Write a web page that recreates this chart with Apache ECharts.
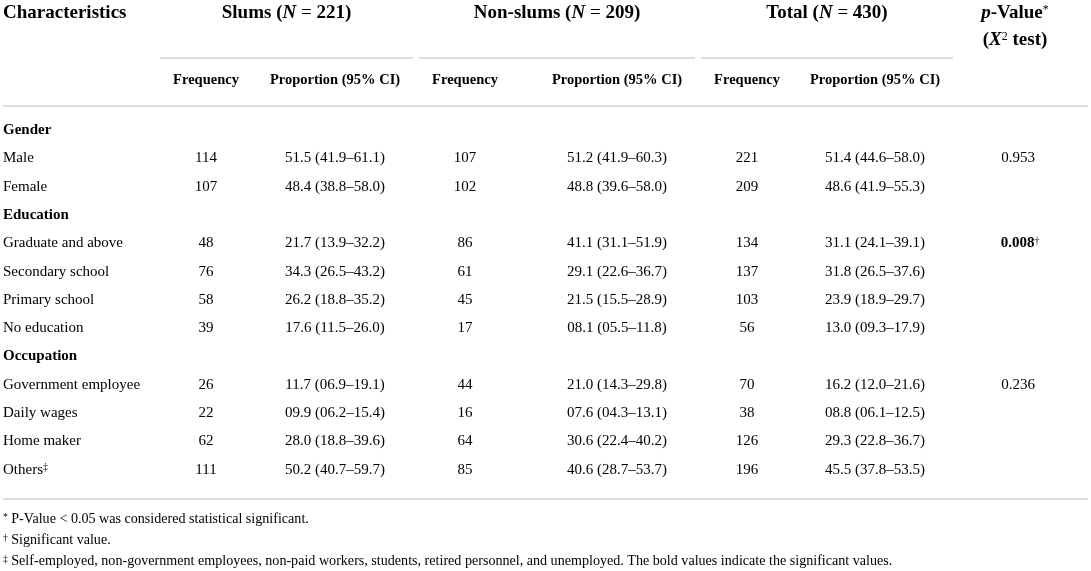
<!DOCTYPE html>
<html>
<head>
<meta charset="utf-8">
<script src="https://cdn.jsdelivr.net/npm/echarts@6/dist/echarts.min.js"></script>
<style>
  html, body { margin: 0; padding: 0; background: #fff; }
  #main { width: 1091px; height: 571px; }
</style>
</head>
<body>
<div id="main"></div>
<script>
// table contents
const rowLabels = ['Gender', 'Male', 'Female', 'Education', 'Graduate and above', 'Secondary school',
  'Primary school', 'No education', 'Occupation', 'Government employee', 'Daily wages', 'Home maker', 'Others'];
const groupRows = ['Gender', 'Education', 'Occupation'];
const groupNames = ['Slums', 'Non-slums', 'Total'];
const groupN = [221, 209, 430];
const subHeaders = ['Frequency', 'Proportion (95% CI)'];

const slumsFreq = [null, 114, 107, null, 48, 76, 58, 39, null, 26, 22, 62, 111];
const slumsProp = [null, '51.5 (41.9–61.1)', '48.4 (38.8–58.0)', null, '21.7 (13.9–32.2)', '34.3 (26.5–43.2)',
  '26.2 (18.8–35.2)', '17.6 (11.5–26.0)', null, '11.7 (06.9–19.1)', '09.9 (06.2–15.4)', '28.0 (18.8–39.6)', '50.2 (40.7–59.7)'];
const nonSlumsFreq = [null, 107, 102, null, 86, 61, 45, 17, null, 44, 16, 64, 85];
const nonSlumsProp = [null, '51.2 (41.9–60.3)', '48.8 (39.6–58.0)', null, '41.1 (31.1–51.9)', '29.1 (22.6–36.7)',
  '21.5 (15.5–28.9)', '08.1 (05.5–11.8)', null, '21.0 (14.3–29.8)', '07.6 (04.3–13.1)', '30.6 (22.4–40.2)', '40.6 (28.7–53.7)'];
const totalFreq = [null, 221, 209, null, 134, 137, 103, 56, null, 70, 38, 126, 196];
const totalProp = [null, '51.4 (44.6–58.0)', '48.6 (41.9–55.3)', null, '31.1 (24.1–39.1)', '31.8 (26.5–37.6)',
  '23.9 (18.9–29.7)', '13.0 (09.3–17.9)', null, '16.2 (12.0–21.6)', '08.8 (06.1–12.5)', '29.3 (22.8–36.7)', '45.5 (37.8–53.5)'];
const pValues = [null, '0.953', null, null, '0.008', null, null, null, null, '0.236', null, null, null];
const significantP = ['0.008'];

const footnotes = [
  ['*', 'P-Value < 0.05 was considered statistical significant.'],
  ['†', 'Significant value.'],
  ['‡', 'Self-employed, non-government employees, non-paid workers, students, retired personnel, and unemployed. The bold values indicate the significant values.']
];

// layout
const FONT = 'Liberation Serif';
const INK = '#231f20';
const RULE = '#d2d2d2';
const colX = [206, 335, 465, 617, 747, 875, 1018]; // centres of data columns
const groupSpan = [[160, 413], [419, 695], [701, 953]];

const rich = {
  r: { fontFamily: FONT, fontSize: 15, color: INK },
  b: { fontFamily: FONT, fontSize: 15, color: INK, fontWeight: 'bold' },
  sup: { fontFamily: FONT, fontSize: 10, color: INK, verticalAlign: 'top', lineHeight: 10 },
  hb: { fontFamily: FONT, fontSize: 19, color: INK, fontWeight: 'bold' },
  hbi: { fontFamily: FONT, fontSize: 19, color: INK, fontWeight: 'bold', fontStyle: 'italic' },
  hr: { fontFamily: FONT, fontSize: 19, color: INK },
  hsup: { fontFamily: FONT, fontSize: 12, color: INK, verticalAlign: 'top', lineHeight: 12 },
  sb: { fontFamily: FONT, fontSize: 14.5, color: INK, fontWeight: 'bold' },
  f: { fontFamily: FONT, fontSize: 14.1, color: INK },
  fsup: { fontFamily: FONT, fontSize: 9.5, color: INK, verticalAlign: 'top', lineHeight: 9 }
};

// one entry per table cell
const cells = [];
rowLabels.forEach((lab, i) => {
  let t;
  if (groupRows.indexOf(lab) >= 0) t = '{b|' + lab + '}';
  else if (lab === 'Others') t = '{r|' + lab + '}{sup|‡}';
  else t = '{r|' + lab + '}';
  cells.push({ row: i, x: 3, align: 'left', text: t });
  const cols = [slumsFreq, slumsProp, nonSlumsFreq, nonSlumsProp, totalFreq, totalProp];
  cols.forEach((arr, c) => {
    if (arr[i] != null) cells.push({ row: i, x: colX[c], align: 'center', text: '{r|' + arr[i] + '}' });
  });
  if (pValues[i] != null) {
    const sig = significantP.indexOf(pValues[i]) >= 0;
    cells.push({ row: i, x: colX[6] + (sig ? 2 : 0), align: 'center',
      text: sig ? '{b|' + pValues[i] + '}{sup|†}' : '{r|' + pValues[i] + '}' });
  }
});

const graphics = [];
graphics.push({ type: 'text', x: 3, y: 13, style: {
  text: '{hb|Characteristics}', rich: rich, align: 'left', verticalAlign: 'middle' } });
groupNames.forEach((g, k) => {
  const cx = (groupSpan[k][0] + groupSpan[k][1]) / 2;
  graphics.push({ type: 'text', x: cx, y: 13, style: {
    text: '{hb|' + g + ' (}{hbi|N}{hr| = }{hb|' + groupN[k] + ')}', rich: rich, align: 'center', verticalAlign: 'middle' } });
  graphics.push({ type: 'line', shape: { x1: groupSpan[k][0], y1: 58, x2: groupSpan[k][1], y2: 58 },
    style: { stroke: RULE, lineWidth: 1.5 } });
  subHeaders.forEach((s, j) => {
    graphics.push({ type: 'text', x: colX[k * 2 + j], y: 80, style: {
      text: '{sb|' + s + '}', rich: rich, align: 'center', verticalAlign: 'middle' } });
  });
});
graphics.push({ type: 'text', x: 1015, y: 13, style: {
  text: '{hbi|p}{hb|-Value}{hsup|*}', rich: rich, align: 'center', verticalAlign: 'middle' } });
graphics.push({ type: 'text', x: 1015, y: 40, style: {
  text: '{hb|(}{hbi|X}{hsup|2}{hb| test)}', rich: rich, align: 'center', verticalAlign: 'middle' } });
graphics.push({ type: 'line', shape: { x1: 3, y1: 106, x2: 1088, y2: 106 }, style: { stroke: RULE, lineWidth: 1.5 } });
graphics.push({ type: 'line', shape: { x1: 3, y1: 499, x2: 1088, y2: 499 }, style: { stroke: RULE, lineWidth: 1.5 } });
footnotes.forEach((fn, k) => {
  graphics.push({ type: 'text', x: 3, y: 519 + k * 21, style: {
    text: '{fsup|' + fn[0] + '}{f| ' + fn[1] + '}', rich: rich, align: 'left', verticalAlign: 'middle' } });
});

const chart = echarts.init(document.getElementById('main'));
chart.setOption({
  animation: false,
  grid: { left: 0, right: 0, top: 116, height: 368 },
  xAxis: { type: 'value', min: 0, max: 1091, show: false },
  yAxis: { type: 'category', data: rowLabels, inverse: true, show: false },
  graphic: graphics,
  series: [{
    type: 'custom',
    coordinateSystem: 'cartesian2d',
    data: cells.map((c, k) => [c.x, c.row, k]),
    renderItem: function (params, api) {
      const cell = cells[api.value(2)];
      const p = api.coord([api.value(0), api.value(1)]);
      return {
        type: 'text',
        x: p[0], y: p[1],
        style: { text: cell.text, rich: rich, align: cell.align, verticalAlign: 'middle' }
      };
    }
  }]
});
</script>
</body>
</html>
